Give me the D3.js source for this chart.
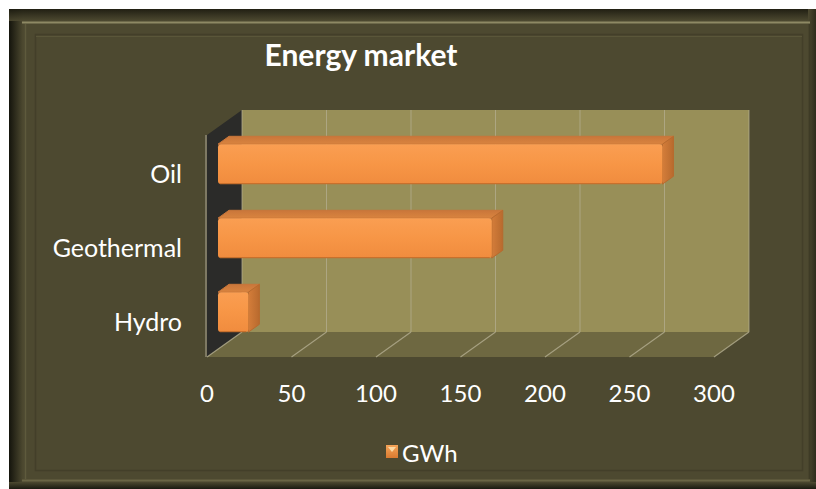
<!DOCTYPE html>
<html><head><meta charset="utf-8">
<script src="https://cdn.jsdelivr.net/npm/d3@7"></script>
<style>html,body{margin:0;padding:0;background:#fff;}svg{display:block;}</style>
</head><body>
<script>
const categories = ["Oil", "Geothermal", "Hydro"];
const values = [263, 162, 18];
const ticks = [0, 50, 100, 150, 200, 250, 300];
const seriesName = "GWh";
const title = "Energy market";

const W = 816, H = 489;
const svg = d3.select("body").append("svg").attr("width", W).attr("height", H);
const defs = svg.append("defs");

function lin(id, x1, y1, x2, y2, stops) {
  const g = defs.append("linearGradient").attr("id", id)
    .attr("x1", x1).attr("y1", y1).attr("x2", x2).attr("y2", y2);
  stops.forEach(s => g.append("stop").attr("offset", s[0]).attr("stop-color", s[1]));
}
lin("gl", 0, 0, 1, 0, [[0, "#14140c"], [1, "#4d4930"]]);
lin("gt", 0, 0, 0, 1, [[0, "#1c1b10"], [1, "#4d4930"]]);
lin("gr", 0, 0, 1, 0, [[0, "#4d4930"], [1, "#2e2c1c"]]);
lin("gb", 0, 0, 0, 1, [[0, "#4d4930"], [1, "#1a1a10"]]);
lin("barFront", 0, 0, 0, 1, [[0, "#fa9e52"], [0.5, "#f79646"], [1, "#f08c3e"]]);
lin("barTop", 0, 0, 0, 1, [[0, "#c9763a"], [1, "#d9843f"]]);
lin("barSide", 0, 0, 1, 0, [[0, "#d47d3a"], [1, "#b86a2e"]]);
lin("legG", 0, 0, 0, 1, [[0, "#f4a458"], [1, "#d97a30"]]);

// outer frame
svg.append("rect").attr("x", 9).attr("y", 9).attr("width", W - 9).attr("height", H - 9).attr("fill", "#4d4930");
svg.append("rect").attr("x", 9).attr("y", 9).attr("width", 14).attr("height", H - 9).attr("fill", "url(#gl)");
svg.append("rect").attr("x", 9).attr("y", 9).attr("width", W - 9).attr("height", 12).attr("fill", "url(#gt)").attr("opacity", 0.9);
svg.append("rect").attr("x", W - 8).attr("y", 9).attr("width", 8).attr("height", H - 9).attr("fill", "url(#gr)");
svg.append("rect").attr("x", 9).attr("y", H - 7).attr("width", W - 9).attr("height", 7).attr("fill", "url(#gb)");
svg.append("line").attr("x1", 22).attr("x2", 810).attr("y1", 22.5).attr("y2", 22.5).attr("stroke", "#8e8964").attr("stroke-width", 2);
svg.append("line").attr("x1", 22).attr("x2", 810).attr("y1", 480.5).attr("y2", 480.5).attr("stroke", "#6a6544").attr("stroke-width", 2);
svg.append("line").attr("x1", 25.5).attr("x2", 25.5).attr("y1", 24).attr("y2", 479).attr("stroke", "#5e5a3c").attr("stroke-width", 1.5);
svg.append("line").attr("x1", 809.5).attr("x2", 809.5).attr("y1", 24).attr("y2", 479).attr("stroke", "#3e3b26").attr("stroke-width", 1.5);
svg.append("rect").attr("x", 35.5).attr("y", 34.5).attr("width", 767).attr("height", 436)
  .attr("fill", "none").attr("stroke", "#433f29").attr("stroke-width", 1.5);
svg.append("line").attr("x1", 36).attr("x2", 802).attr("y1", 36.5).attr("y2", 36.5).attr("stroke", "#5a5639").attr("stroke-width", 1);

// 3D geometry
const depthX = 35, depthY = -25;
const x = d3.scaleLinear().domain([0, 300]).range([207, 714]);
const yFrontTop = 135, yFrontBottom = 357;
const y = d3.scaleBand().domain(categories).range([yFrontTop, yFrontBottom]).paddingInner(0.46).paddingOuter(0.23);
const band = d3.scaleBand().domain(categories).range([yFrontTop, yFrontBottom]);
const P = (vx, vy, d) => [x(vx) + depthX * d, vy + depthY * d];
const pts = a => a.map(p => p.join(",")).join(" ");

svg.append("polygon").attr("points", pts([P(0, yFrontTop, 1), P(300, yFrontTop, 1), P(300, yFrontBottom, 1), P(0, yFrontBottom, 1)])).attr("fill", "#988f58");
svg.append("polygon").attr("points", pts([P(0, yFrontTop, 0), P(0, yFrontTop, 1), P(0, yFrontBottom, 1), P(0, yFrontBottom, 0)])).attr("fill", "#2b2b29");
svg.append("polygon").attr("points", pts([P(0, yFrontBottom, 0), P(300, yFrontBottom, 0), P(300, yFrontBottom, 1), P(0, yFrontBottom, 1)])).attr("fill", "#6e6841");

const gridC = "#b4ae90";
ticks.forEach(t => {
  const a = P(t, yFrontTop, 1), b = P(t, yFrontBottom, 1), c = P(t, yFrontBottom, 0);
  svg.append("line").attr("x1", a[0]).attr("y1", a[1]).attr("x2", b[0]).attr("y2", b[1])
    .attr("stroke", gridC).attr("stroke-width", 1).attr("opacity", 0.75);
  svg.append("line").attr("x1", b[0]).attr("y1", b[1]).attr("x2", c[0]).attr("y2", c[1])
    .attr("stroke", gridC).attr("stroke-width", 1.2).attr("opacity", 0.8);
});
{
  const a = P(0, yFrontTop, 0), b = P(0, yFrontBottom, 0);
  svg.append("line").attr("x1", a[0] - 1).attr("y1", a[1]).attr("x2", b[0] - 1).attr("y2", b[1])
    .attr("stroke", "#8f8a74").attr("stroke-width", 1.5);
}

// bars
const d0 = 11 / 35, d1 = 22 / 35;
categories.forEach((c, i) => {
  const v = values[i];
  const yt = y(c), yb = y(c) + y.bandwidth();
  const f = [P(0, yt, d0), P(v, yt, d0), P(v, yb, d0), P(0, yb, d0)];
  const top = [P(0, yt, d0), P(0, yt, d1), P(v, yt, d1), P(v, yt, d0)];
  const side = [P(v, yt, d0), P(v, yt, d1), P(v, yb, d1), P(v, yb, d0)];
  const g = svg.append("g");
  g.append("polygon").attr("points", pts(top)).attr("fill", "url(#barTop)")
    .attr("stroke", "#c9763a").attr("stroke-width", 1).attr("stroke-linejoin", "round");
  g.append("polygon").attr("points", pts(side)).attr("fill", "url(#barSide)")
    .attr("stroke", "#b86a2e").attr("stroke-width", 1).attr("stroke-linejoin", "round");
  g.append("rect").attr("x", f[0][0]).attr("y", f[0][1]).attr("width", f[1][0] - f[0][0]).attr("height", f[3][1] - f[0][1])
    .attr("rx", 3).attr("fill", "url(#barFront)");
  g.append("line").attr("x1", f[0][0] + 2).attr("x2", f[1][0] - 2).attr("y1", f[3][1] - 0.5).attr("y2", f[3][1] - 0.5)
    .attr("stroke", "#c8702c").attr("stroke-width", 1.2);
});

const font = "Lato, 'Open Sans', sans-serif";
categories.forEach(c => {
  svg.append("text").attr("x", 182).attr("y", band(c) + band.bandwidth() / 2 + 11)
    .attr("text-anchor", "end").attr("font-family", font).attr("font-size", 25)
    .attr("fill", "#ffffff").text(c);
});
ticks.forEach(t => {
  svg.append("text").attr("x", x(t)).attr("y", 402).attr("text-anchor", "middle")
    .attr("font-family", font).attr("font-size", 24).attr("fill", "#ffffff").text(t);
});
svg.append("text").attr("x", 361).attr("y", 66).attr("text-anchor", "middle")
  .attr("font-family", font).attr("font-weight", "bold").attr("font-size", 30).attr("fill", "#ffffff").text(title);
svg.append("rect").attr("x", 386).attr("y", 445).attr("width", 12).attr("height", 13).attr("fill", "url(#legG)");
svg.append("polygon").attr("points", "388,447 396,447 392,452").attr("fill", "#fbd9a4");
svg.append("text").attr("x", 402).attr("y", 462).attr("font-family", font).attr("font-size", 24)
  .attr("fill", "#ffffff").text(seriesName);
</script>
</body></html>
